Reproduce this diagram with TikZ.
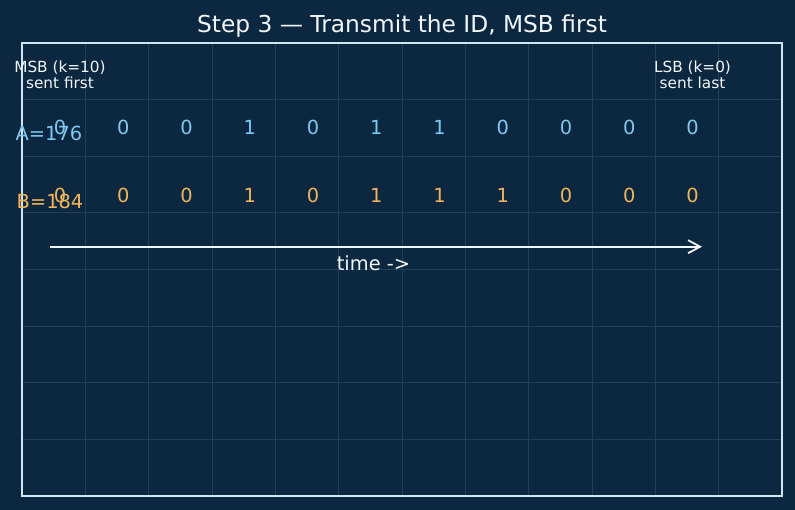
\documentclass[tikz,border=0pt]{standalone}
\usepackage{fontspec}
\setmainfont{DejaVu Sans}
\usetikzlibrary{arrows.meta}
\definecolor{bgc}{HTML}{0B2840}
\definecolor{gridc}{HTML}{22405A}
\definecolor{framec}{HTML}{D2E5F3}
\definecolor{bluec}{HTML}{7EC8F2}
\definecolor{orangec}{HTML}{F2B45A}
\definecolor{txtc}{HTML}{F2F6FA}
\tikzset{
  ttl/.style={anchor=base, inner sep=0, text=txtc, font=\fontsize{23.3}{28}\selectfont},
  bitA/.style={anchor=base, inner sep=0, text=bluec, font=\fontsize{19.4}{23}\selectfont},
  bitB/.style={anchor=base, inner sep=0, text=orangec, font=\fontsize{19.4}{23}\selectfont},
  endlbl/.style={anchor=base, inner sep=0, text=txtc, align=center, font=\fontsize{15.3}{16.8}\selectfont},
  timelbl/.style={anchor=base, inner sep=0, text=txtc, font=\fontsize{19.4}{23}\selectfont},
  gridln/.style={draw=gridc, line width=0.8pt},
  framebox/.style={draw=framec, line width=1.6pt},
  timearrow/.style={draw=txtc, line width=1.8pt, -{Straight Barb[length=12pt,width=13pt,line width=1.8pt]}}
}
\begin{document}
\begin{tikzpicture}[x=1pt,y=-1pt]
\fill[bgc] (0,0) rectangle (795,510);
\useasboundingbox (0,0) rectangle (795,510);
% grid
\foreach \i in {1,...,11} {
  \draw[gridln] ({22+\i*760/12},43) -- ({22+\i*760/12},496);
}
\foreach \j in {1,...,7} {
  \draw[gridln] (22,{43+\j*453/8}) -- (782,{43+\j*453/8});
}
\draw[framebox] (22,43) rectangle (782,496);
% title
\node[ttl] (title) at (402,32.5) {Step 3 — Transmit the ID, MSB first};
% end labels
\node[endlbl] (msb) at (60,89) {MSB (k=10)\\sent first};
\node[endlbl] (lsb) at (692.5,89) {LSB (k=0)\\sent last};
% row labels
\node[bitA] (la) at (49,141) {A=176};
\node[bitB] (lb) at (50,209) {B=184};
% bits
\foreach \b [count=\n from 0] in {0,0,0,1,0,1,1,0,0,0,0} {
  \node[bitA] (a\n) at ({60+\n*63.25},135) {\b};
}
\foreach \b [count=\n from 0] in {0,0,0,1,0,1,1,1,0,0,0} {
  \node[bitB] (b\n) at ({60+\n*63.25},203) {\b};
}
% time arrow
\coordinate (ts) at (50,246.7);
\coordinate (te) at (702,246.7);
\draw[timearrow] (ts) -- (te);
\node[timelbl] (tl) at (373.5,270.5) {time ->};
\end{tikzpicture}
\end{document}
